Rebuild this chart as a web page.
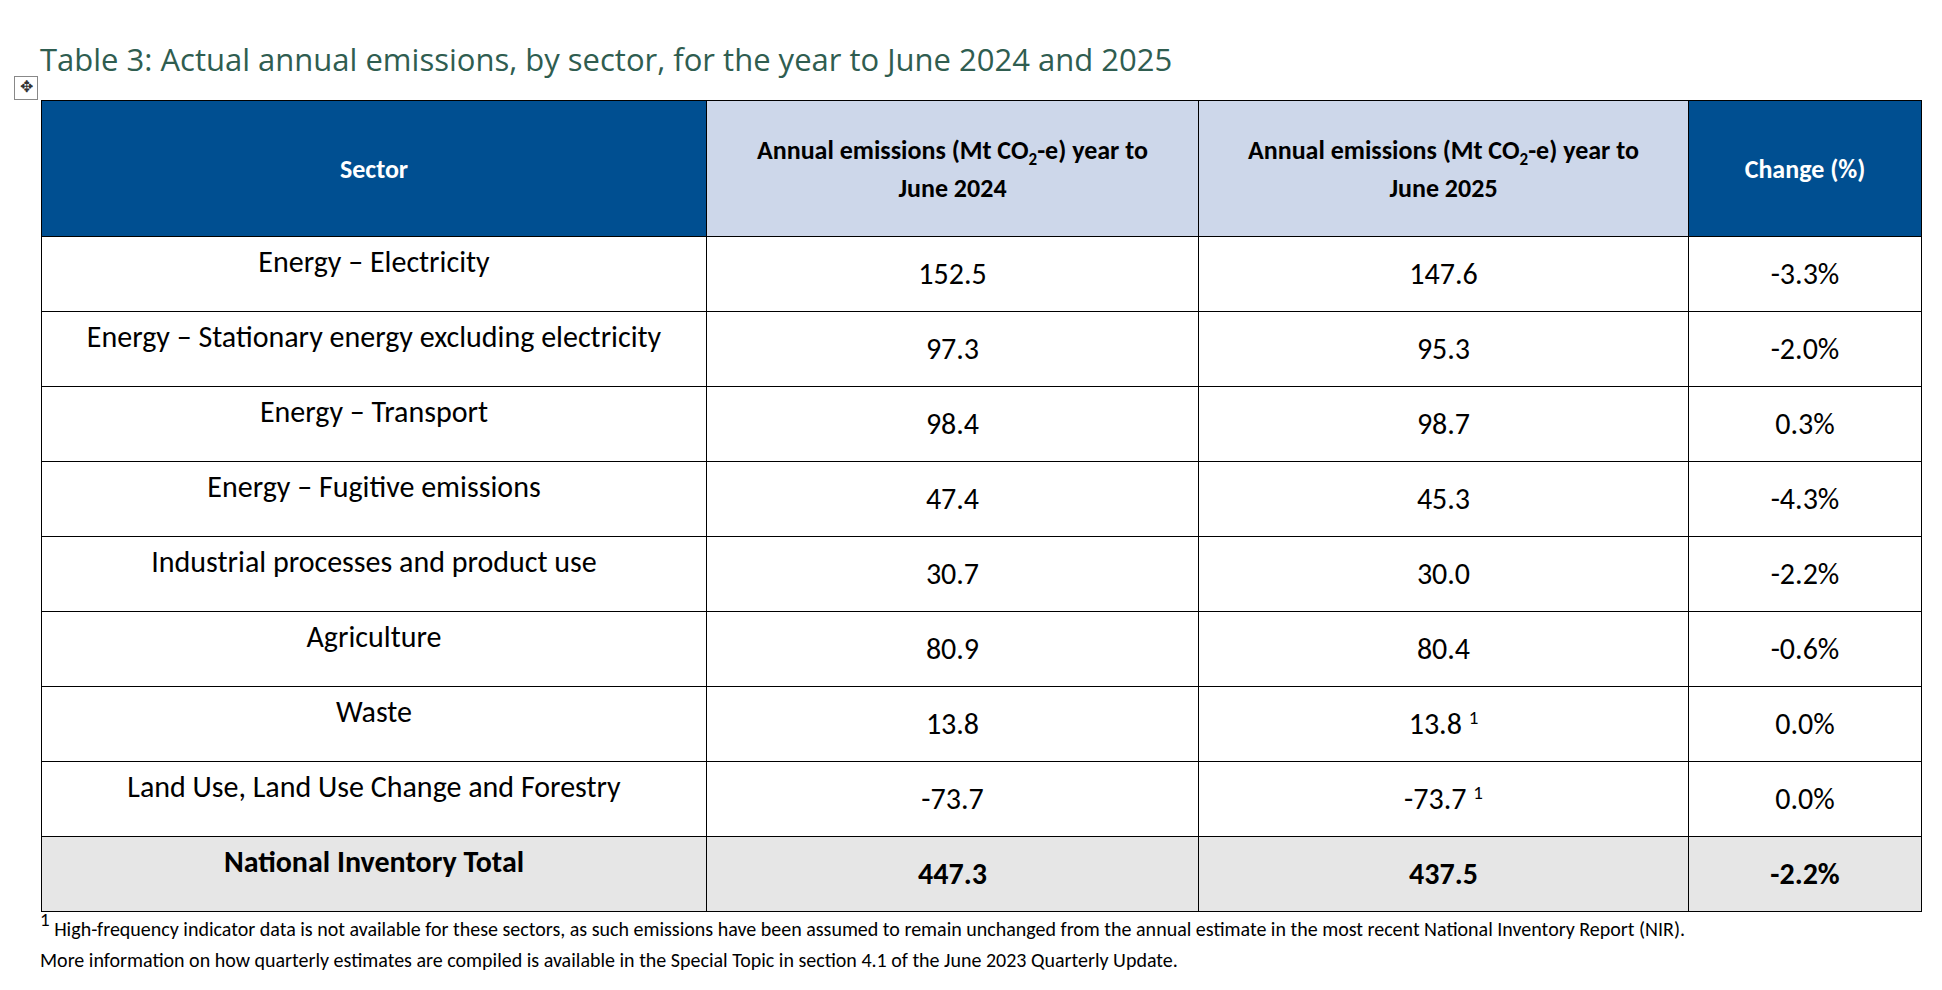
<!DOCTYPE html>
<html>
<head>
<meta charset="utf-8">
<script src="https://cdn.jsdelivr.net/npm/chart.js@4"></script>
<style>
  body { margin: 0; background: #fff; font-family: Carlito, Calibri, "Open Sans", Lato, sans-serif; }
  #title { position: absolute; left: 40px; top: 38px; font-size: 31px; color: #2f5d50; font-family: "Open Sans", sans-serif; }
  #handle { position: absolute; left: 14px; top: 76px; width: 22px; height: 22px; border: 1px solid #888; font-size: 16px; text-align: center; line-height: 20px; color: #333; }
  table { position: absolute; left: 41px; top: 100px; width: 1880px; border-collapse: collapse; table-layout: fixed; }
  td, th { border: 1.5px solid #000; text-align: center; padding: 0; box-sizing: border-box; }
  th { height: 136px; font-size: 26px; font-weight: bold; line-height: 38px; }
  th.dark { background: #004f91; color: #fff; }
  th.light { background: #cdd7ea; color: #000; }
  td { height: 75px; font-size: 30px; line-height: 34px; }
  td.sector { vertical-align: top; padding-top: 8px; }
  tr.total td { background: #e6e6e6; font-weight: bold; }
  sup { font-size: 19px; line-height: 0; vertical-align: 10px; }
  sub { font-size: 17px; line-height: 0; }
  #notes { position: absolute; left: 40px; top: 914px; font-size: 20px; line-height: 31px; color: #000; }
</style>
</head>
<body>
<div id="title">Table 3: Actual annual emissions, by sector, for the year to June 2024 and 2025</div>
<div id="handle">✥</div>
<table id="emissionsTable">
  <colgroup>
    <col style="width:665px"><col style="width:492px"><col style="width:490px"><col style="width:233px">
  </colgroup>
  <thead>
    <tr>
      <th class="dark">Sector</th>
      <th class="light">Annual emissions (Mt CO<sub>2</sub>-e) year to<br>June 2024</th>
      <th class="light">Annual emissions (Mt CO<sub>2</sub>-e) year to<br>June 2025</th>
      <th class="dark">Change (%)</th>
    </tr>
  </thead>
  <tbody id="tableBody"></tbody>
</table>
<div id="notes"><sup>1</sup> High-frequency indicator data is not available for these sectors, as such emissions have been assumed to remain unchanged from the annual estimate in the most recent National Inventory Report (NIR).<br>More information on how quarterly estimates are compiled is available in the Special Topic in section 4.1 of the June 2023 Quarterly Update.</div>
<script>
// Emissions data by sector
const rows = [
  { sector: 'Energy – Electricity', y2024: '152.5', y2025: '147.6', change: '-3.3%' },
  { sector: 'Energy – Stationary energy excluding electricity', y2024: '97.3', y2025: '95.3', change: '-2.0%' },
  { sector: 'Energy – Transport', y2024: '98.4', y2025: '98.7', change: '0.3%' },
  { sector: 'Energy – Fugitive emissions', y2024: '47.4', y2025: '45.3', change: '-4.3%' },
  { sector: 'Industrial processes and product use', y2024: '30.7', y2025: '30.0', change: '-2.2%' },
  { sector: 'Agriculture', y2024: '80.9', y2025: '80.4', change: '-0.6%' },
  { sector: 'Waste', y2024: '13.8', y2025: '13.8', change: '0.0%', note: true },
  { sector: 'Land Use, Land Use Change and Forestry', y2024: '-73.7', y2025: '-73.7', change: '0.0%', note: true },
  { sector: 'National Inventory Total', y2024: '447.3', y2025: '437.5', change: '-2.2%', total: true }
];

const body = document.getElementById('tableBody');
rows.forEach(r => {
  const tr = document.createElement('tr');
  if (r.total) tr.className = 'total';
  const y25 = r.note ? `${r.y2025} <sup>1</sup>` : r.y2025;
  tr.innerHTML = `<td class="sector">${r.sector}</td><td>${r.y2024}</td><td>${y25}</td><td>${r.change}</td>`;
  body.appendChild(tr);
});
</script>
</body>
</html>
